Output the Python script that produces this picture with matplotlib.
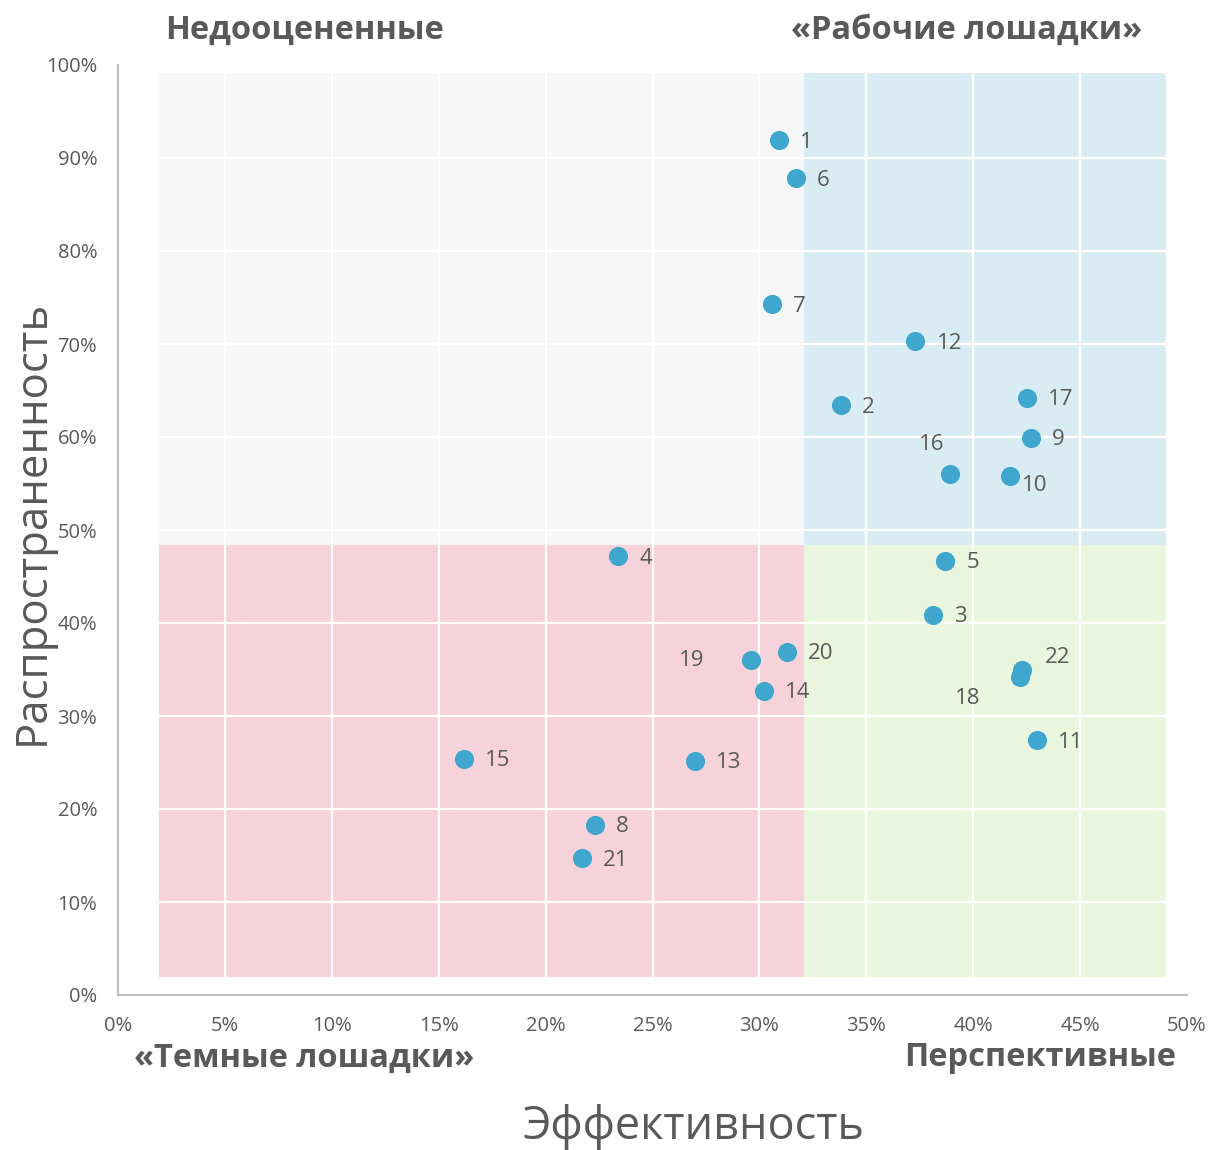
import matplotlib
matplotlib.use("Agg")
import matplotlib.pyplot as plt
from matplotlib.patches import Rectangle
from matplotlib.ticker import FuncFormatter, MultipleLocator

plt.rcParams['font.family'] = ['Open Sans', 'DejaVu Sans']

# ---- data ----
ids = ["1", "6", "7", "12", "2", "17", "9", "16", "10", "4", "5", "3",
       "20", "19", "14", "22", "18", "11", "15", "13", "8", "21"]
efficiency = [30.9, 31.7, 30.6, 37.3, 33.8, 42.5, 42.7, 38.9, 41.7, 23.4, 38.7, 38.1,
              31.3, 29.6, 30.2, 42.3, 42.2, 43.0, 16.2, 27.0, 22.3, 21.7]
prevalence = [91.9, 87.8, 74.3, 70.3, 63.4, 64.2, 59.9, 56.0, 55.8, 47.2, 46.7, 40.9,
              36.9, 36.0, 32.7, 34.9, 34.2, 27.4, 25.4, 25.2, 18.3, 14.7]

quad_x = [1.9, 32.1, 49.0]   # left, split, right
quad_y = [1.9, 48.4, 99.1]   # bottom, split, top
quad_names = ["Недооцененные", "«Рабочие лошадки»", "«Темные лошадки»", "Перспективные"]
x_label = "Эффективность"
y_label = "Распространенность"

# label offsets in pixels (dx, dy, ha)
PX = 72 / 100.0
offsets = {
    "16": (-18, 30, "center"),
    "18": (-53, -22, "center"),
    "10": (12, -9, "left"),
    "22": (23, 13, "left"),
    "19": (-46, 0, "right"),
}

TXT = "#595959"
fig = plt.figure(figsize=(12.12, 11.5), dpi=100)
ax = fig.add_axes([118/1212, 1-995/1150, (1187-118)/1212, (995-65)/1150])

cols = {"tl": "#f7f7f7", "tr": "#d9ecf3", "bl": "#f6d3db", "br": "#e9f5dd"}
ax.add_patch(Rectangle((quad_x[0], quad_y[1]), quad_x[1]-quad_x[0], quad_y[2]-quad_y[1], color=cols["tl"], zorder=0.1, lw=0))
ax.add_patch(Rectangle((quad_x[1], quad_y[1]), quad_x[2]-quad_x[1], quad_y[2]-quad_y[1], color=cols["tr"], zorder=0.1, lw=0))
ax.add_patch(Rectangle((quad_x[0], quad_y[0]), quad_x[1]-quad_x[0], quad_y[1]-quad_y[0], color=cols["bl"], zorder=0.1, lw=0))
ax.add_patch(Rectangle((quad_x[1], quad_y[0]), quad_x[2]-quad_x[1], quad_y[1]-quad_y[0], color=cols["br"], zorder=0.1, lw=0))

ax.set_xlim(0, 50)
ax.set_ylim(0, 100)
ax.xaxis.set_major_locator(MultipleLocator(5))
ax.yaxis.set_major_locator(MultipleLocator(10))
fmt = FuncFormatter(lambda v, p: f"{v:.0f}%")
ax.xaxis.set_major_formatter(fmt)
ax.yaxis.set_major_formatter(fmt)
ax.set_axisbelow(True)
ax.grid(True, color="white", linewidth=1.6)
ax.tick_params(length=0, labelsize=14.5, colors=TXT)
ax.tick_params(axis="y", pad=15)
ax.tick_params(axis="x", pad=15)
for s in ["top", "right"]:
    ax.spines[s].set_visible(False)
for s in ["left", "bottom"]:
    ax.spines[s].set_color("#bfbfbf")
    ax.spines[s].set_linewidth(1.5)

ax.scatter(efficiency, prevalence, s=190, color="#3fa6ce", zorder=3, linewidths=0)
for lab, xv, yv in zip(ids, efficiency, prevalence):
    dx, dy, ha = offsets.get(lab, (21, -2, "left"))
    ax.annotate(lab, (xv, yv), xytext=(dx*PX, dy*PX), textcoords="offset points",
                ha=ha, va="center", fontsize=16, color=TXT, zorder=4)

tkw = dict(fontsize=23.5, fontweight="bold", color=TXT, ha="center", va="center")
fig.text(305/1212, 1-30/1150, quad_names[0], **tkw)
fig.text(967/1212, 1-30/1150, quad_names[1], **tkw)
fig.text(304/1212, 1-1058/1150, quad_names[2], **tkw)
fig.text(1040/1212, 1-1058/1150, quad_names[3], **tkw)

fig.text(694/1212, 1-1127/1150, x_label, fontsize=32.5, color=TXT, ha="center", va="center")
fig.text(33/1212, 1-522/1150, y_label, fontsize=31.5, color=TXT, ha="center", va="center", rotation=90)

fig.savefig("out.png", dpi=100)
